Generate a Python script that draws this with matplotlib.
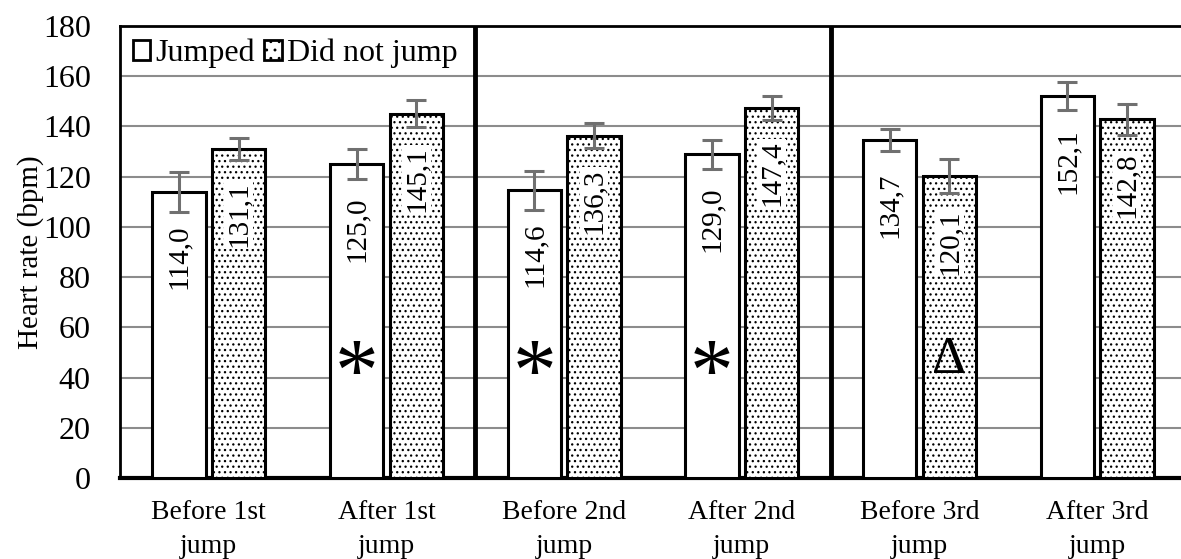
import matplotlib
matplotlib.use("Agg")
import matplotlib.pyplot as plt
from matplotlib.patches import Patch
import numpy as np

# heart rate means and SD
stages = ["Before 1st\njump", "After 1st\njump", "Before 2nd\njump",
          "After 2nd\njump", "Before 3rd\njump", "After 3rd\njump"]
jumped = [114.0, 125.0, 114.6, 129.0, 134.7, 152.1]
not_jumped = [131.1, 145.1, 136.3, 147.4, 120.1, 142.8]
jumped_sd = [8.0, 6.0, 7.7, 5.8, 4.4, 5.6]
not_jumped_sd = [4.4, 5.5, 5.0, 4.8, 6.8, 6.3]

# significance marks: (stage index, group, symbol)
marks = [(1, "jumped", "*"), (2, "jumped", "*"), (3, "jumped", "*"),
         (4, "not", "\u0394")]

plt.rcParams["font.family"] = ["Liberation Serif", "DejaVu Serif"]
plt.rcParams["hatch.linewidth"] = 0.9

fig = plt.figure(figsize=(11.81, 5.59), dpi=100)
ax = fig.add_axes([120 / 1181, 1 - 478 / 559, 1066 / 1181, 452 / 559])

x = np.arange(len(stages))
off = 0.168
w = 0.30
err_kw = dict(ecolor="#707070", elinewidth=2.2, capsize=7, capthick=2.2)

b1 = ax.bar(x - off, jumped, w, color="white", edgecolor="black", linewidth=2.2,
            yerr=jumped_sd, error_kw=err_kw, zorder=3)
b2 = ax.bar(x + off, not_jumped, w, color="white", edgecolor="black", linewidth=2.2,
            hatch="...", yerr=not_jumped_sd, error_kw=err_kw, zorder=3)

# value labels inside the top of each bar
for xs, vals in ((x - off, jumped), (x + off, not_jumped)):
    for xi, v in zip(xs, vals):
        ax.text(xi, v - 13, f"{v:.1f}".replace(".", ","), rotation=90,
                ha="center", va="top", fontsize=21, zorder=5,
                bbox=dict(facecolor="white", edgecolor="none", pad=1))

for i, grp, sym in marks:
    xi = i - off if grp == "jumped" else i + off
    if sym == "*":
        ax.text(xi, 40, sym, ha="center", va="center", fontsize=63, zorder=5)
    else:
        ax.text(xi, 47, sym, ha="center", va="center", fontsize=38, zorder=5)

# separators between jump sessions
for sx in (1.5, 3.5):
    ax.axvline(sx, color="black", linewidth=3.5, zorder=4)

ax.set_xlim(-0.5, len(stages) - 0.5)
ax.set_ylim(0, 180)
ax.set_yticks(range(0, 181, 20))
ax.set_xticks(x)
ax.set_xticklabels(stages, fontsize=20, linespacing=1.45)
ax.tick_params(axis="y", labelsize=23, length=0, pad=21)
ax.tick_params(axis="x", length=0, pad=16)
ax.set_ylabel("Heart rate (bpm)", fontsize=21, labelpad=-1)

ax.yaxis.grid(True, color="#8c8c8c", linewidth=1.5, zorder=0)
ax.set_axisbelow(True)
for s in ("top", "left"):
    ax.spines[s].set_linewidth(2)
ax.spines["bottom"].set_linewidth(3)
ax.spines["right"].set_visible(False)

handles = [Patch(facecolor="white", edgecolor="black", linewidth=2),
           Patch(facecolor="white", edgecolor="black", linewidth=2, hatch="..")]
ax.legend(handles, ["Jumped", "Did not jump"], loc="upper left", ncol=2,
          frameon=False, fontsize=23, handlelength=0.55, handleheight=0.55,
          handletextpad=0.15, columnspacing=0.3, borderaxespad=0.1,
          borderpad=0.3)

fig.savefig("out.png", dpi=100)
